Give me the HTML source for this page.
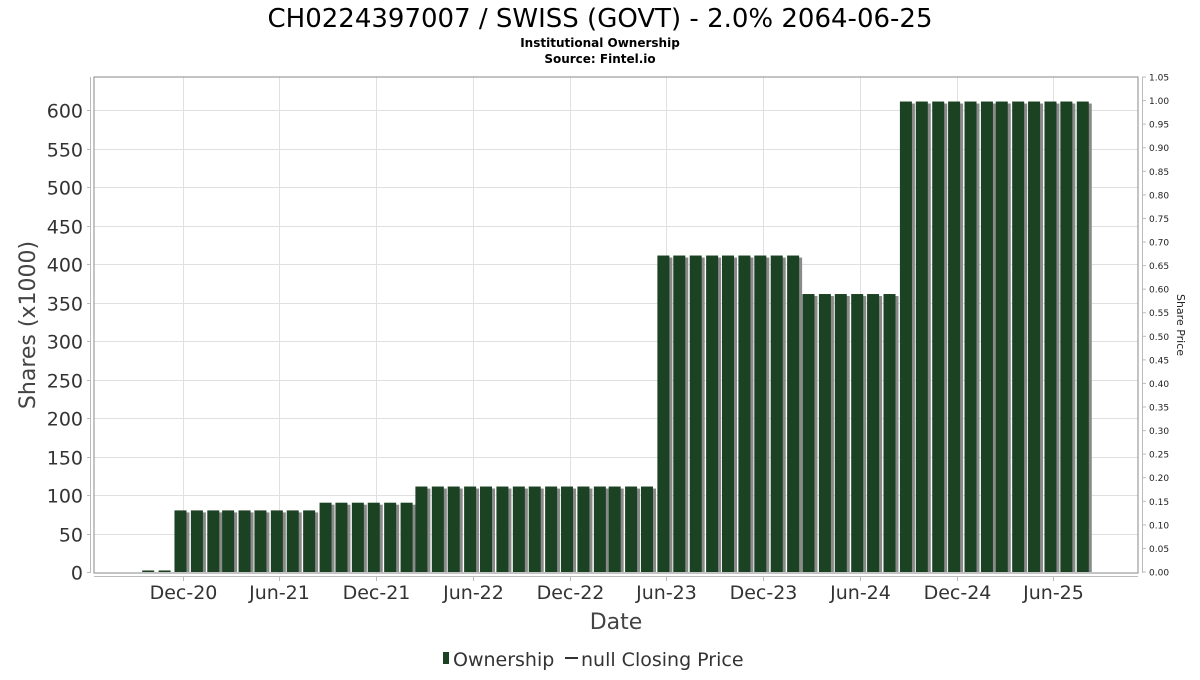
<!DOCTYPE html>
<html><head><meta charset="utf-8"><style>
body{margin:0;background:#fff;}
svg text{font-family:"DejaVu Sans","Liberation Sans",sans-serif;}
</style></head><body>
<svg id="chart" width="1200" height="675" xmlns="http://www.w3.org/2000/svg">
<text x="600" y="27" text-anchor="middle" font-size="26" fill="#000">CH0224397007 / SWISS (GOVT) - 2.0% 2064-06-25</text>
<text x="600" y="47" text-anchor="middle" font-size="12" font-weight="bold" fill="#000">Institutional Ownership</text>
<text x="600" y="63" text-anchor="middle" font-size="12" font-weight="bold" fill="#000">Source: Fintel.io</text>
<g id="grid"></g>
<g id="bars"></g>
<rect x="94" y="77" width="1044" height="496" fill="none" stroke="#888" stroke-width="1"/>
<line x1="90.5" y1="77" x2="90.5" y2="573" stroke="#bbb"/>
<line x1="1142.5" y1="77" x2="1142.5" y2="573" stroke="#bbb"/>
<line x1="94" y1="576.5" x2="1138" y2="576.5" stroke="#bbb"/>
<g id="axes"></g>
<text transform="translate(35,325) rotate(-90)" text-anchor="middle" font-size="22" fill="#444">Shares (x1000)</text>
<text transform="translate(1177,325) rotate(90)" text-anchor="middle" font-size="11" fill="#222">Share Price</text>
<text x="616" y="629" text-anchor="middle" font-size="22" fill="#444">Date</text>
<g>
<rect x="443" y="652" width="6" height="12" fill="#1a4223"/>
<text x="453" y="666" font-size="19" fill="#333">Ownership</text>
<line x1="565" y1="658" x2="578" y2="658" stroke="#333" stroke-width="2"/>
<text x="581" y="666" font-size="19" fill="#333">null Closing Price</text>
</g>
</svg>
<script>
const ownershipValues = [2,2,80,80,80,80,80,80,80,80,80,90,90,90,90,90,90,111,111,111,111,111,111,111,111,111,111,111,111,111,111,111,411,411,411,411,411,411,411,411,411,361,361,361,361,361,361,611,611,611,611,611,611,611,611,611,611,611,611];
const firstBarMonth = [2020, 8];
const leftTicks = [0,50,100,150,200,250,300,350,400,450,500,550,600];
const rightTicks = ["0.00","0.05","0.10","0.15","0.20","0.25","0.30","0.35","0.40","0.45","0.50","0.55","0.60","0.65","0.70","0.75","0.80","0.85","0.90","0.95","1.00","1.05"];
const xTickLabels = ["Dec-20","Jun-21","Dec-21","Jun-22","Dec-22","Jun-23","Dec-23","Jun-24","Dec-24","Jun-25"];
const xTickDates = ["2020-12-01","2021-06-01","2021-12-01","2022-06-01","2022-12-01","2023-06-01","2023-12-01","2024-06-01","2024-12-01","2025-06-01"];

const NS="http://www.w3.org/2000/svg";
const t0=Date.UTC(2020,11,1), t1=Date.UTC(2025,5,1);
function xs(ms){return 183+(ms-t0)/(t1-t0)*(1053-183);}
function ys(v){return 572-v*(462/600);}
function ys2(p){return 572-p*(471.4/1.0);}
function mk(tag,attrs,parent){const e=document.createElementNS(NS,tag);for(const k in attrs)e.setAttribute(k,attrs[k]);parent.appendChild(e);return e;}
const grid=document.getElementById('grid'),axes=document.getElementById('axes'),bars=document.getElementById('bars');

leftTicks.forEach(v=>{
  const y=Math.round(ys(v))+0.5;
  if(v>0){const g=mk('line',{x1:94,x2:1138,y1:y,y2:y,stroke:'#e0e0e0'},grid);
  
  }
  const tk=mk('line',{x1:87,x2:91,y1:y,y2:y,stroke:'#bbb'},axes);
  
  
  const t=mk('text',{x:83,y:y+7,'text-anchor':'end','font-size':19,fill:'#333'},axes);
  t.textContent=v;
  
  
});
rightTicks.forEach(s=>{
  const y=ys2(parseFloat(s));
  const tk=mk('line',{x1:1142,x2:1146,y1:y,y2:y,stroke:'#bbb'},axes);
  
  
  const t=mk('text',{x:1149,y:y+3.5,'font-size':9,fill:'#222'},axes);
  t.textContent=s;
  
  
});
xTickDates.forEach((d,i)=>{
  const p=d.split('-').map(Number);
  const x=Math.round(xs(Date.UTC(p[0],p[1]-1,p[2])))+0.5;
  const g=mk('line',{x1:x,x2:x,y1:77,y2:573,stroke:'#e0e0e0'},grid);
  
  
  const tk=mk('line',{x1:x,x2:x,y1:577,y2:581,stroke:'#bbb'},axes);
  
  
  const t=mk('text',{x:x,y:599,'text-anchor':'middle','font-size':19,fill:'#333'},axes);
  t.textContent=xTickLabels[i];
  
  
});
ownershipValues.forEach((v,i)=>{
  const m=firstBarMonth[1]+i;
  const ms=Date.UTC(firstBarMonth[0],m+1,0);
  const cx=xs(ms)-2;
  const y=ys(v), h=572-y;
  const s=mk('rect',{x:cx-6+3,y:y+2,width:12,height:h-2,fill:'#8a8a8a'},bars);
  
  
  const b=mk('rect',{x:cx-6,y:y,width:12,height:h,fill:'#1a4223'},bars);
  
  
});
</script>
</body></html>
